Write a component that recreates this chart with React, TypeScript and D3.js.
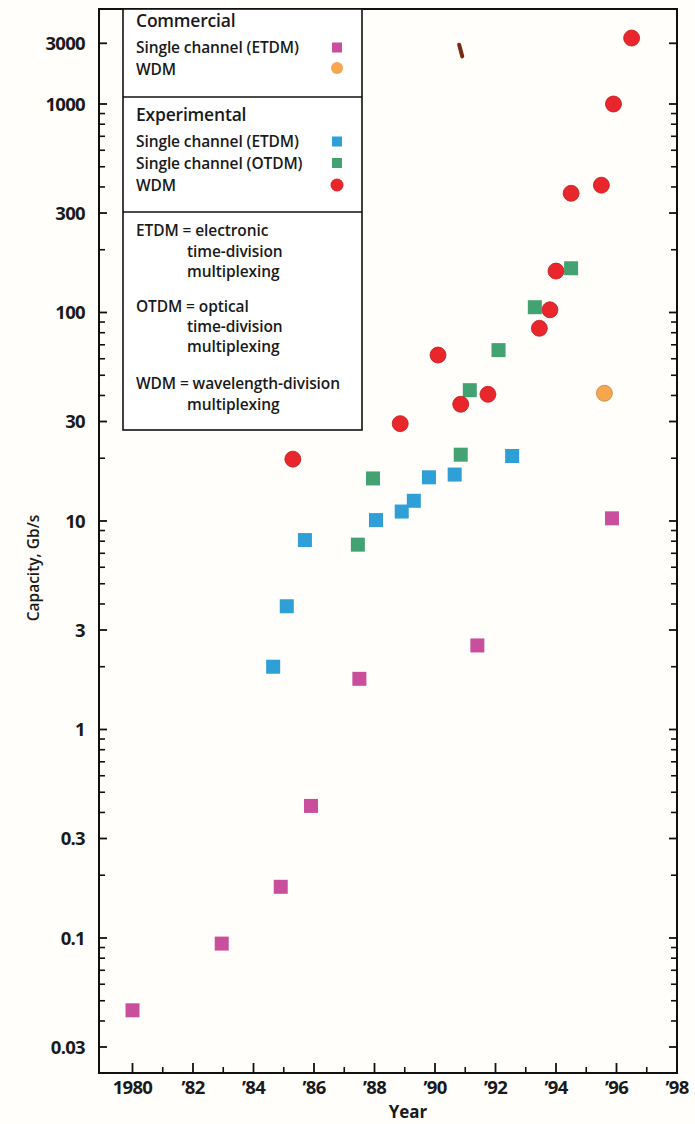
import * as d3 from 'd3'

// ---- data ----
const commercialEtdmYears = [1980.0, 1982.95, 1984.9, 1985.9, 1987.5, 1991.4, 1995.85]
const commercialEtdmValues = [0.045, 0.094, 0.176, 0.43, 1.75, 2.53, 10.3]

const commercialWdmYears = [1995.6]
const commercialWdmValues = [41]

const expEtdmYears = [1984.65, 1985.1, 1985.7, 1988.05, 1988.9, 1989.3, 1989.8, 1990.65, 1992.55]
const expEtdmValues = [2.0, 3.9, 8.1, 10.1, 11.1, 12.5, 16.2, 16.7, 20.5]

const expOtdmYears = [1987.45, 1987.95, 1990.85, 1991.15, 1992.1, 1993.3, 1994.5]
const expOtdmValues = [7.7, 16, 20.8, 42.4, 66, 106, 163]

const expWdmYears = [1985.3, 1988.85, 1990.1, 1990.85, 1991.75, 1993.45, 1993.8, 1994.0, 1994.5, 1995.5, 1995.9, 1996.5]
const expWdmValues = [19.8, 29.3, 62.5, 36.3, 40.5, 84, 103, 158, 373, 408, 1000, 3300]

// stray printed mark near the top of the plot
const strayMarkYears = [1990.85]
const strayMarkValues = [2630]

const yTickValues = [3000, 1000, 300, 100, 30, 10, 3, 1, 0.3, 0.1, 0.03]
const yTickLabels = ['3000', '1000', '300', '100', '30', '10', '3', '1', '0.3', '0.1', '0.03']
const xTickYears = [1980, 1982, 1984, 1986, 1988, 1990, 1992, 1994, 1996, 1998]
const xTickLabels = ['1980', '\u201982', '\u201984', '\u201986', '\u201988', '\u201990', '\u201992', '\u201994', '\u201996', '\u201998']

const COLORS = {
  comEtdm: '#c94f9d',
  comWdm: '#f5a64e',
  expEtdm: '#2f9fd8',
  expOtdm: '#43a272',
  expWdm: '#e8262b',
}

const W = 695
const H = 1124
const F = { left: 99, right: 677, top: 9, bottom: 1073 }
const FONT = "'Open Sans', 'DejaVu Sans', sans-serif"

export default function App() {
  const x = d3.scaleLinear().domain([1980, 1998]).range([132.5, F.right])
  // log axis, but the last step (1000 -> 3000) is squeezed in the original
  const yLog = d3.scaleLinear()
    .domain([Math.log10(0.03), 3, Math.log10(3000)])
    .range([1047, 104, 43.3])
  const y = (v: number) => yLog(Math.log10(v))

  const minorY: number[] = []
  d3.range(-2, 3).forEach(e => {
    [2, 4, 5, 6, 7, 8, 9].forEach(m => {
      const v = m * Math.pow(10, e)
      if (v > 0.03 && v < 1000) minorY.push(v)
    })
  })
  const minorX = d3.range(1981, 1998, 2)

  const SQ = 14
  const R = 8

  const squares = (years: number[], vals: number[], color: string, key: string) =>
    years.map((yr, i) => (
      <rect key={key + i} x={x(yr) - SQ / 2} y={y(vals[i]) - SQ / 2} width={SQ} height={SQ}
        fill={color} />
    ))
  const circles = (years: number[], vals: number[], color: string, key: string) =>
    years.map((yr, i) => (
      <circle key={key + i} cx={x(yr)} cy={y(vals[i])} r={R} fill={color}
        stroke={d3.color(color)!.darker(0.6).toString()} strokeWidth={0.8} />
    ))

  const lg = { x0: 123, x1: 362, tx: 136, sx: 337, ind: 187 }
  const subStyle = { fontSize: 15.5, fontWeight: 600, letterSpacing: -0.1 }
  const headStyle = { fontSize: 17.5, fontWeight: 600, letterSpacing: -0.2 }
  const tickStyle = { fontSize: 18.5, fontWeight: 700, letterSpacing: -0.7 }

  return (
    <div style={{ position: 'absolute', left: 0, top: 0 }}>
      <svg width={W} height={H} style={{ display: 'block', background: '#fffefb', fontFamily: FONT }}>
        {/* frame */}
        <rect x={F.left} y={F.top} width={F.right - F.left} height={F.bottom - F.top}
          fill="none" stroke="#111" strokeWidth={2} />

        {/* y ticks, left and right, pointing inward */}
        {yTickValues.map(v => (
          <g key={'yt' + v}>
            <line x1={F.left} x2={F.left + 8} y1={y(v)} y2={y(v)} stroke="#111" strokeWidth={1.8} />
            <line x1={F.right} x2={F.right - 8} y1={y(v)} y2={y(v)} stroke="#111" strokeWidth={1.8} />
          </g>
        ))}
        {minorY.map(v => (
          <g key={'ym' + v}>
            <line x1={F.left} x2={F.left + 6} y1={y(v)} y2={y(v)} stroke="#111" strokeWidth={1.6} />
            <line x1={F.right} x2={F.right - 6} y1={y(v)} y2={y(v)} stroke="#111" strokeWidth={1.6} />
          </g>
        ))}
        {yTickValues.map((v, i) => (
          <text key={'yl' + v} x={85} y={y(v)} dy="0.36em" textAnchor="end"
            style={tickStyle} fill="#1a1a1a">{yTickLabels[i]}</text>
        ))}

        {/* x ticks */}
        {xTickYears.map(yr => (
          <line key={'xt' + yr} x1={x(yr)} x2={x(yr)} y1={F.bottom} y2={F.bottom - 10}
            stroke="#111" strokeWidth={1.8} />
        ))}
        {minorX.map(yr => (
          <line key={'xm' + yr} x1={x(yr)} x2={x(yr)} y1={F.bottom} y2={F.bottom - 6}
            stroke="#111" strokeWidth={1.6} />
        ))}
        {xTickYears.map((yr, i) => (
          <text key={'xl' + yr} x={x(yr)} y={1087} dy="0.36em" textAnchor="middle"
            style={tickStyle} fill="#1a1a1a">{xTickLabels[i]}</text>
        ))}

        {/* axis titles */}
        <text x={408} y={1112} dy="0.36em" textAnchor="middle" fontSize={17} fontWeight={700}
          fill="#1a1a1a">Year</text>
        <text transform={`translate(33,${568}) rotate(-90)`} dy="0.36em" textAnchor="middle"
          fontSize={15.5} fontWeight={600} fill="#1a1a1a">Capacity, Gb/s</text>

        {/* data */}
        {squares(commercialEtdmYears, commercialEtdmValues, COLORS.comEtdm, 'ce')}
        {squares(expEtdmYears, expEtdmValues, COLORS.expEtdm, 'ee')}
        {squares(expOtdmYears, expOtdmValues, COLORS.expOtdm, 'eo')}
        {circles(commercialWdmYears, commercialWdmValues, COLORS.comWdm, 'cw')}
        {circles(expWdmYears, expWdmValues, COLORS.expWdm, 'ew')}
        {strayMarkYears.map((yr, i) => (
          <rect key={'sm' + i} x={x(yr) - 2} y={y(strayMarkValues[i]) - 8} width={4} height={16} rx={2}
            fill="#7a2a12" transform={`rotate(-15 ${x(yr)} ${y(strayMarkValues[i])})`} />
        ))}

        {/* legend box */}
        <g fill="#1a1a1a">
          <rect x={lg.x0} y={F.top} width={lg.x1 - lg.x0} height={430 - F.top} fill="#fff"
            stroke="#111" strokeWidth={1.6} />
          <line x1={lg.x0} x2={lg.x1} y1={97} y2={97} stroke="#111" strokeWidth={1.4} />
          <line x1={lg.x0} x2={lg.x1} y1={212} y2={212} stroke="#111" strokeWidth={1.4} />

          <text x={lg.tx} y={21} dy="0.36em" style={headStyle}>Commercial</text>
          <text x={lg.tx} y={47.5} dy="0.36em" style={subStyle}>Single channel (ETDM)</text>
          <text x={lg.tx} y={69} dy="0.36em" style={subStyle}>WDM</text>
          <rect x={lg.sx - 5} y={47.5 - 5} width={10} height={10} fill={COLORS.comEtdm} />
          <circle cx={lg.sx} cy={68} r={6} fill={COLORS.comWdm} />

          <text x={lg.tx} y={115} dy="0.36em" style={headStyle}>Experimental</text>
          <text x={lg.tx} y={141.5} dy="0.36em" style={subStyle}>Single channel (ETDM)</text>
          <text x={lg.tx} y={163} dy="0.36em" style={subStyle}>Single channel (OTDM)</text>
          <text x={lg.tx} y={185} dy="0.36em" style={subStyle}>WDM</text>
          <rect x={lg.sx - 5} y={141.5 - 5} width={10} height={10} fill={COLORS.expEtdm} />
          <rect x={lg.sx - 5} y={163 - 5} width={10} height={10} fill={COLORS.expOtdm} />
          <circle cx={lg.sx} cy={185} r={6.5} fill={COLORS.expWdm} />

          <text x={lg.tx} y={230} dy="0.36em" style={subStyle}>ETDM = electronic</text>
          <text x={lg.ind} y={251} dy="0.36em" style={subStyle}>time-division</text>
          <text x={lg.ind} y={271} dy="0.36em" style={subStyle}>multiplexing</text>

          <text x={lg.tx} y={306} dy="0.36em" style={subStyle}>OTDM = optical</text>
          <text x={lg.ind} y={326} dy="0.36em" style={subStyle}>time-division</text>
          <text x={lg.ind} y={346} dy="0.36em" style={subStyle}>multiplexing</text>

          <text x={lg.tx} y={383} dy="0.36em" style={subStyle}>WDM = wavelength-division</text>
          <text x={lg.ind} y={404} dy="0.36em" style={subStyle}>multiplexing</text>
        </g>
      </svg>
    </div>
  )
}
